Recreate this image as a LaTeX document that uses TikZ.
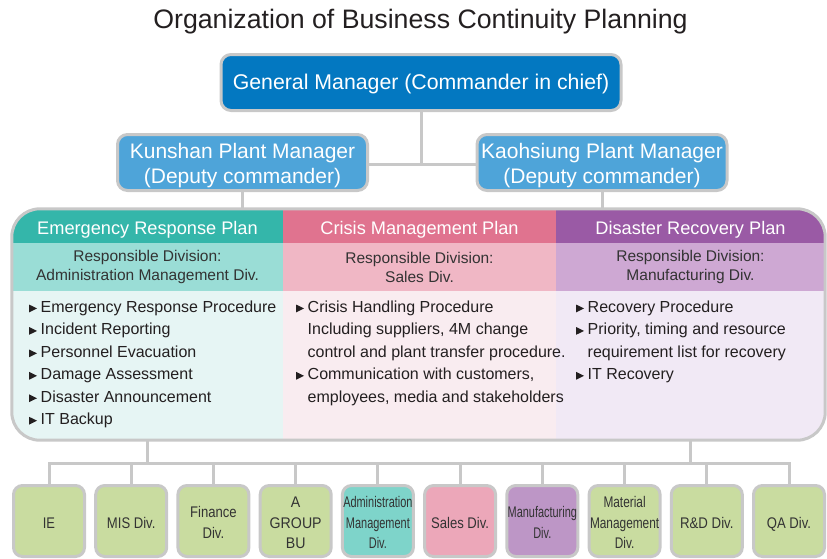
\documentclass[tikz,border=0pt]{standalone}
\usepackage{fontspec}
\usepackage{graphicx}
\setmainfont{Liberation Sans}

\definecolor{linegray}{HTML}{C8C8C8}
\definecolor{inkdark}{HTML}{231F20}
\definecolor{inkgray}{HTML}{333333}
\definecolor{gmblue}{HTML}{0378C1}
\definecolor{depblue}{HTML}{4EA4D9}
\definecolor{tealA}{HTML}{34B6AA}
\definecolor{tealB}{HTML}{9ADDD6}
\definecolor{tealC}{HTML}{E6F5F4}
\definecolor{pinkA}{HTML}{E0738F}
\definecolor{pinkB}{HTML}{F0B7C5}
\definecolor{pinkC}{HTML}{F9ECF0}
\definecolor{purpA}{HTML}{9A5AA5}
\definecolor{purpB}{HTML}{CEA8D3}
\definecolor{purpC}{HTML}{F1E9F5}
\definecolor{divgreen}{HTML}{C9DCA0}
\definecolor{divteal}{HTML}{7ED4CA}
\definecolor{divpink}{HTML}{ECA7B9}
\definecolor{divpurp}{HTML}{BD96C6}

% list bullets: small solid triangle standing on the baseline
\newcommand\bul{\makebox[11.5pt][l]{\tikz[baseline=0pt]\fill[inkdark] (0pt,0.2pt) -- (0pt,7.9pt) -- (7.8pt,4.05pt) -- cycle;}}
\newcommand\nob{\hspace*{11.5pt}}
% centred multi-line block, lowered by #1 without changing its reported size
\newcommand\lowered[2]{\raisebox{-#1}[\height][\depth]{\begin{tabular}{@{}c@{}}#2\end{tabular}}}
% horizontally condensed multi-line label
\newcommand\narrow[2]{\raisebox{-3pt}[\height][\depth]{\scalebox{#1}[1]{\begin{tabular}{@{}c@{}}#2\end{tabular}}}}

\tikzset{
  link/.style={draw=linegray, line width=3pt},
  chief/.style={draw=linegray, line width=3pt, rounded corners=10pt, fill=gmblue,
    text=white, font=\fontsize{21.3}{25}\selectfont,
    minimum width=400pt, minimum height=56pt, inner sep=0pt},
  deputy/.style={draw=linegray, line width=3pt, rounded corners=10pt, fill=depblue,
    text=white, font=\fontsize{21}{25}\selectfont,
    minimum width=250pt, minimum height=56pt, inner sep=0pt},
  planhead/.style={text=white, font=\fontsize{18.2}{22}\selectfont, inner sep=0pt},
  plansub/.style={text=inkgray, font=\fontsize{15.5}{19}\selectfont, align=center, inner sep=0pt},
  item/.style={text=inkdark, font=\fontsize{16}{20}\selectfont, inner sep=0pt, anchor=base west},
  division/.style={draw=linegray, line width=3pt, rounded corners=9pt,
    minimum width=71pt, minimum height=71pt, inner sep=0pt,
    text=inkgray, font=\fontsize{15.4}{20.5}\selectfont},
}

\begin{document}
\begin{tikzpicture}[x=1pt, y=-1pt]
\useasboundingbox (0,0) rectangle (827,558);

% title
\node[text=inkdark, font=\fontsize{26.7}{30}\selectfont, anchor=base, inner sep=0pt]
  (title) at (420.5,28) {Organization of Business Continuity Planning};

% command level
\node[chief] (gm) at (421,82.5) {\lowered{1.5pt}{General Manager (Commander in chief)}};
\node[deputy] (kun) at (242.5,162.5) {\lowered{3.5pt}{Kunshan Plant Manager\\(Deputy commander)}};
\node[deputy] (kao) at (602,162.5) {\lowered{3.5pt}{Kaohsiung Plant Manager\\(Deputy commander)}};
\coordinate (hub) at (421,164);
\draw[link] (gm.south) -- (hub);
\draw[link] (kun.east |- hub) -- (kao.west |- hub);

% plan panel
\path node[minimum width=813pt, minimum height=231pt, inner sep=0pt] (panel) at (418.5,324.5) {};
\begin{scope}
  \clip[rounded corners=28pt] (panel.north west) rectangle (panel.south east);
  % header row
  \fill[tealA] (12,209) rectangle (283,243);
  \fill[pinkA] (283,209) rectangle (556,243);
  \fill[purpA] (556,209) rectangle (825,243);
  % responsible division row
  \fill[tealB] (12,243) rectangle (283,291);
  \fill[pinkB] (283,243) rectangle (556,291);
  \fill[purpB] (556,243) rectangle (825,291);
  % item row
  \fill[tealC] (12,291) rectangle (283,440);
  \fill[pinkC] (283,291) rectangle (556,440);
  \fill[purpC] (556,291) rectangle (825,440);
\end{scope}
\draw[link, rounded corners=28pt] (panel.north west) rectangle (panel.south east);

\node[planhead] (erp) at (147.5,229.5) {Emergency Response Plan};
\node[planhead] (cmp) at (419.5,229.5) {Crisis Management Plan};
\node[planhead] (drp) at (690.5,229.5) {Disaster Recovery Plan};

\node[plansub] (ers) at (147.5,267) {Responsible Division:\\Administration Management Div.};
\node[plansub] (cms) at (419.5,267) {Responsible Division:\\Sales Div.};
\node[plansub] (drs) at (690.5,267) {Responsible Division:\\Manufacturing Div.};

\foreach \t [count=\i] in {Emergency Response Procedure, Incident Reporting,
    Personnel Evacuation, Damage Assessment, Disaster Announcement, IT Backup}
  \node[item] (er\i) at (29,{312.5+(\i-1)*22.45}) {\bul\t};

\foreach \t [count=\i] in {{\bul Crisis Handling Procedure},
    {\nob Including suppliers, 4M change},
    {\nob control and plant transfer procedure.},
    {\bul Communication with customers,},
    {\nob employees, media and stakeholders}}
  \node[item] (cm\i) at (296,{312.5+(\i-1)*22.45}) {\t};

\foreach \t [count=\i] in {{\bul Recovery Procedure},
    {\bul Priority, timing and resource},
    {\nob requirement list for recovery},
    {\bul IT Recovery}}
  \node[item] (dr\i) at (576,{312.5+(\i-1)*22.45}) {\t};

% divisions
\node[division, fill=divgreen] (d1) at (49,521) {\narrow{0.84}{IE}};
\node[division, fill=divgreen] (d2) at (131.2,521) {\narrow{0.85}{MIS Div.}};
\node[division, fill=divgreen] (d3) at (213.4,521) {\narrow{0.85}{Finance\\Div.}};
\node[division, fill=divgreen] (d4) at (295.7,521) {\narrow{0.92}{A\\GROUP\\BU}};
\node[division, fill=divteal] (d5) at (377.9,521) {\narrow{0.71}{Administration\\Management\\Div.}};
\node[division, fill=divpink] (d6) at (460.1,521) {\narrow{0.85}{Sales Div.}};
\node[division, fill=divpurp] (d7) at (542.3,521) {\narrow{0.71}{Manufacturing\\Div.}};
\node[division, fill=divgreen] (d8) at (624.6,521) {\narrow{0.77}{Material\\Management\\Div.}};
\node[division, fill=divgreen] (d9) at (706.8,521) {\narrow{0.86}{R\&D Div.}};
\node[division, fill=divgreen] (d10) at (789,521) {\narrow{0.85}{QA Div.}};

% connectors
\draw[link] (kun.south) -- (kun.south |- panel.north);
\draw[link] (kao.south) -- (kao.south |- panel.north);
\coordinate (bus) at (420,463);
\draw[link] (erp |- panel.south) -- (erp |- bus);
\draw[link] (drp |- panel.south) -- (drp |- bus);
\draw[link] (d1.north) -- (d1.north |- bus) -- (d10.north |- bus) -- (d10.north);
\foreach \i in {2,...,9}
  \draw[link] (d\i.north) -- (d\i.north |- bus);
\end{tikzpicture}
\end{document}
